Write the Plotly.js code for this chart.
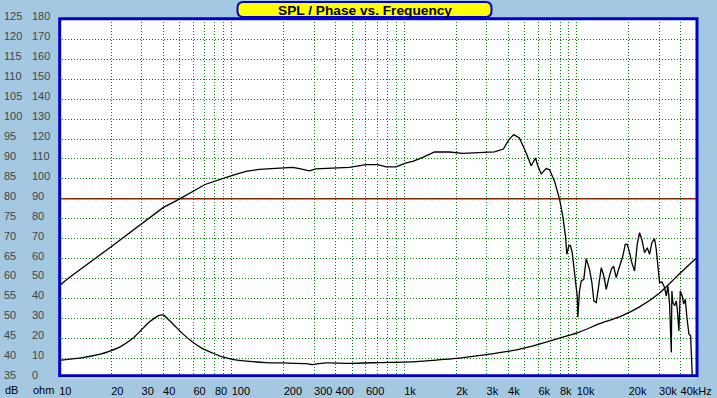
<!DOCTYPE html>
<html><head><meta charset="utf-8">
<script src="https://cdn.plot.ly/plotly-3.0.1.min.js"></script>
<style>html,body{margin:0;padding:0;background:#A4C8E2;} #chart{width:717px;height:398px;}</style>
</head><body><div id="chart"></div>
<script>
// SPL curve (dB, left scale)
const splFreq = [10, 11.4, 20, 30, 40, 50, 70, 100, 121, 144, 165, 225, 247, 282, 307, 400, 481, 601, 701, 785, 897, 1026, 1122, 1280, 1497, 1828, 2183, 2700, 3335, 3758, 4034, 4313, 4654, 5094, 5445, 5768, 5948, 6224, 6654, 6954, 7434, 7947, 8307, 8610, 8762, 9000, 9204, 9417, 9621, 9840, 10067, 10150, 10380, 10620, 10990, 11350, 11860, 12240, 12570, 12980, 13260, 13880, 14360, 14830, 15290, 15850, 16350, 16950, 17480, 18510, 19110, 19630, 20250, 20870, 21640, 22430, 23130, 23850, 24730, 25640, 26440, 27270, 28270, 28920, 29820, 30220, 31160, 32310, 33050, 33770, 34540, 35340, 35620, 36100, 36930, 37780, 38280, 39110, 39850, 40930, 41650, 42610, 43520, 44700, 45730, 46770];
const splDb = [58.2, 60.2, 68.0, 73.8, 77.8, 80.0, 83.6, 85.8, 86.9, 87.4, 87.6, 87.9, 87.6, 87.0, 87.5, 87.7, 87.9, 88.6, 88.6, 88.0, 88.0, 89.0, 89.4, 90.4, 91.75, 91.75, 91.4, 91.6, 91.8, 92.5, 94.8, 96.1, 95.25, 91.5, 88.3, 90.25, 88.3, 86.25, 87.6, 87.3, 84.4, 80.0, 75.6, 70.6, 66.1, 68.2, 68.3, 66.5, 63.2, 60.2, 55.6, 50.3, 56.9, 59.4, 59.8, 65.0, 62.3, 59.0, 54.4, 54.0, 56.5, 62.75, 60.65, 57.3, 59.8, 62.3, 63.15, 60.25, 62.3, 65.65, 68.6, 68.6, 66.5, 64.0, 61.9, 68.6, 71.5, 69.8, 66.5, 67.75, 66.1, 69.0, 70.0, 67.3, 61.5, 59.0, 59.15, 57.75, 55.6, 58.15, 53.6, 41.5, 56.9, 54.0, 53.2, 54.4, 52.3, 46.9, 56.9, 55.6, 53.6, 54.8, 50.25, 46.1, 45.65, 35.3];
// Impedance curve (ohm, second scale)
const impFreq = [10, 13.65, 17.06, 19.5, 22.8, 26.6, 29.8, 33.3, 36.4, 38, 40.6, 42.5, 46.4, 51.9, 59.3, 67.8, 77.4, 88.5, 101, 126.5, 158, 197, 270, 294, 322, 352, 481, 718, 1172, 1563, 2000, 2985, 3985, 5094, 6654, 8307, 10380, 13550, 18110, 23130, 30220, 36930, 39850, 48870];
const impOhm = [9.0, 10.4, 12.0, 13.5, 16.0, 19.9, 24.1, 28.2, 30.7, 31.6, 31.6, 29.9, 26.6, 22.4, 18.2, 14.9, 12.7, 10.7, 9.5, 8.5, 7.9, 7.7, 7.4, 6.9, 7.4, 7.7, 7.5, 7.9, 8.4, 9.2, 10.0, 11.9, 13.5, 15.4, 18.2, 20.7, 23.2, 27.4, 31.2, 35.8, 42.8, 50.0, 52.8, 60.0];

const xTickVals = [10,20,30,40,50,60,70,80,90,100,200,300,400,500,600,700,800,900,1000,2000,3000,4000,5000,6000,7000,8000,9000,10000,20000,30000,40000];
const xTickText = ['10','20','30','40','','60','','80','','100','200','300','400','','600','','','','1k','2k','3k','4k','','6k','','8k','','10k','20k','30k','40kHz'];
const dbTicks = [35,40,45,50,55,60,65,70,75,80,85,90,95,100,105,110,115,120,125];
const ohmTicks = [0,10,20,30,40,50,60,70,80,90,100,110,120,130,140,150,160,170,180];

const W = 717, H = 398;
const px = x => x / W;
const py = y => 1 - y / H;

function roundRect(x0, y0, x1, y1, r) {
  const P = (x, y) => px(x).toFixed(5) + ',' + py(y).toFixed(5);
  return 'M' + P(x0 + r, y0) + ' L' + P(x1 - r, y0) + ' Q' + P(x1, y0) + ' ' + P(x1, y0 + r) +
    ' L' + P(x1, y1 - r) + ' Q' + P(x1, y1) + ' ' + P(x1 - r, y1) +
    ' L' + P(x0 + r, y1) + ' Q' + P(x0, y1) + ' ' + P(x0, y1 - r) +
    ' L' + P(x0, y0 + r) + ' Q' + P(x0, y0) + ' ' + P(x0 + r, y0) + ' Z';
}

const gridColor = '#008000';
const traces = [
  {x: splFreq, y: splDb, type: 'scatter', mode: 'lines', xaxis: 'x', yaxis: 'y',
   line: {color: '#000000', width: 1.3}, hoverinfo: 'skip'},
  {x: impFreq, y: impOhm, type: 'scatter', mode: 'lines', xaxis: 'x', yaxis: 'y2',
   line: {color: '#000000', width: 1.3, shape: 'spline', smoothing: 0.6}, hoverinfo: 'skip'}
];

const layout = {
  width: W, height: H,
  margin: {l: 0, r: 0, t: 0, b: 0, pad: 0, autoexpand: false},
  paper_bgcolor: '#A4C8E2', plot_bgcolor: '#FFFFFF',
  showlegend: false,
  font: {family: 'Arial, "Liberation Sans", sans-serif', size: 11, color: '#000000'},
  xaxis: {
    type: 'log', range: [1, Math.log10(50000)], domain: [px(59.2), px(697.3)],
    anchor: 'y', tickmode: 'array', tickvals: xTickVals, ticktext: xTickText, tickangle: 0,
    ticks: '', ticklabelstandoff: 5, showgrid: true, gridcolor: gridColor, gridwidth: 1, griddash: '1px,2px',
    zeroline: false, showline: false, ticklabelposition: 'outside right',
    ticklabeloverflow: 'allow', tickfont: {size: 11}, fixedrange: true
  },
  yaxis: {
    range: [35, 125], domain: [py(378.3), py(19.4)], anchor: 'free', position: 0, side: 'left',
    tickmode: 'array', tickvals: dbTicks, ticks: '', ticklabelposition: 'inside',
    ticklabeloverflow: 'allow', ticklabelshift: -3,
    showgrid: true, gridcolor: gridColor, gridwidth: 1, griddash: '1px,2px',
    zeroline: false, showline: false, tickfont: {size: 11}, fixedrange: true
  },
  yaxis2: {
    range: [0, 180], overlaying: 'y', anchor: 'free', position: px(28), side: 'left',
    tickmode: 'array', tickvals: ohmTicks, ticks: '', ticklabelposition: 'inside',
    ticklabeloverflow: 'allow', ticklabelshift: -3,
    showgrid: false, zeroline: false, showline: false, tickfont: {size: 11}, fixedrange: true
  },
  shapes: [
    {type: 'line', xref: 'paper', yref: 'y', x0: px(59.2), x1: px(697.3), y0: 80, y1: 80,
     line: {color: '#C00000', width: 1.5}, layer: 'between'},
    {type: 'rect', xref: 'paper', yref: 'paper', x0: px(59.7), x1: px(697), y0: py(375.8), y1: py(18.7),
     line: {color: '#0000C8', width: 3}, fillcolor: 'rgba(0,0,0,0)', layer: 'above'},
    {type: 'path', xref: 'paper', yref: 'paper', path: roundRect(237.5, 2, 491.5, 17, 6),
     fillcolor: '#FFFF00', line: {color: '#0000C8', width: 2}, layer: 'above'}
  ],
  annotations: [
    {text: '<b>SPL / Phase vs. Frequency</b>', xref: 'paper', yref: 'paper', x: px(365), y: py(10),
     xanchor: 'center', yanchor: 'middle', showarrow: false, font: {size: 13.7, color: '#000000'}},
    {text: 'dB', xref: 'paper', yref: 'paper', x: px(3), y: py(390), xanchor: 'left', yanchor: 'middle',
     showarrow: false, font: {size: 11}},
    {text: 'ohm', xref: 'paper', yref: 'paper', x: px(31), y: py(390), xanchor: 'left', yanchor: 'middle',
     showarrow: false, font: {size: 11}}
  ]
};

Plotly.newPlot('chart', traces, layout, {staticPlot: true, displayModeBar: false});
</script>
</body></html>
